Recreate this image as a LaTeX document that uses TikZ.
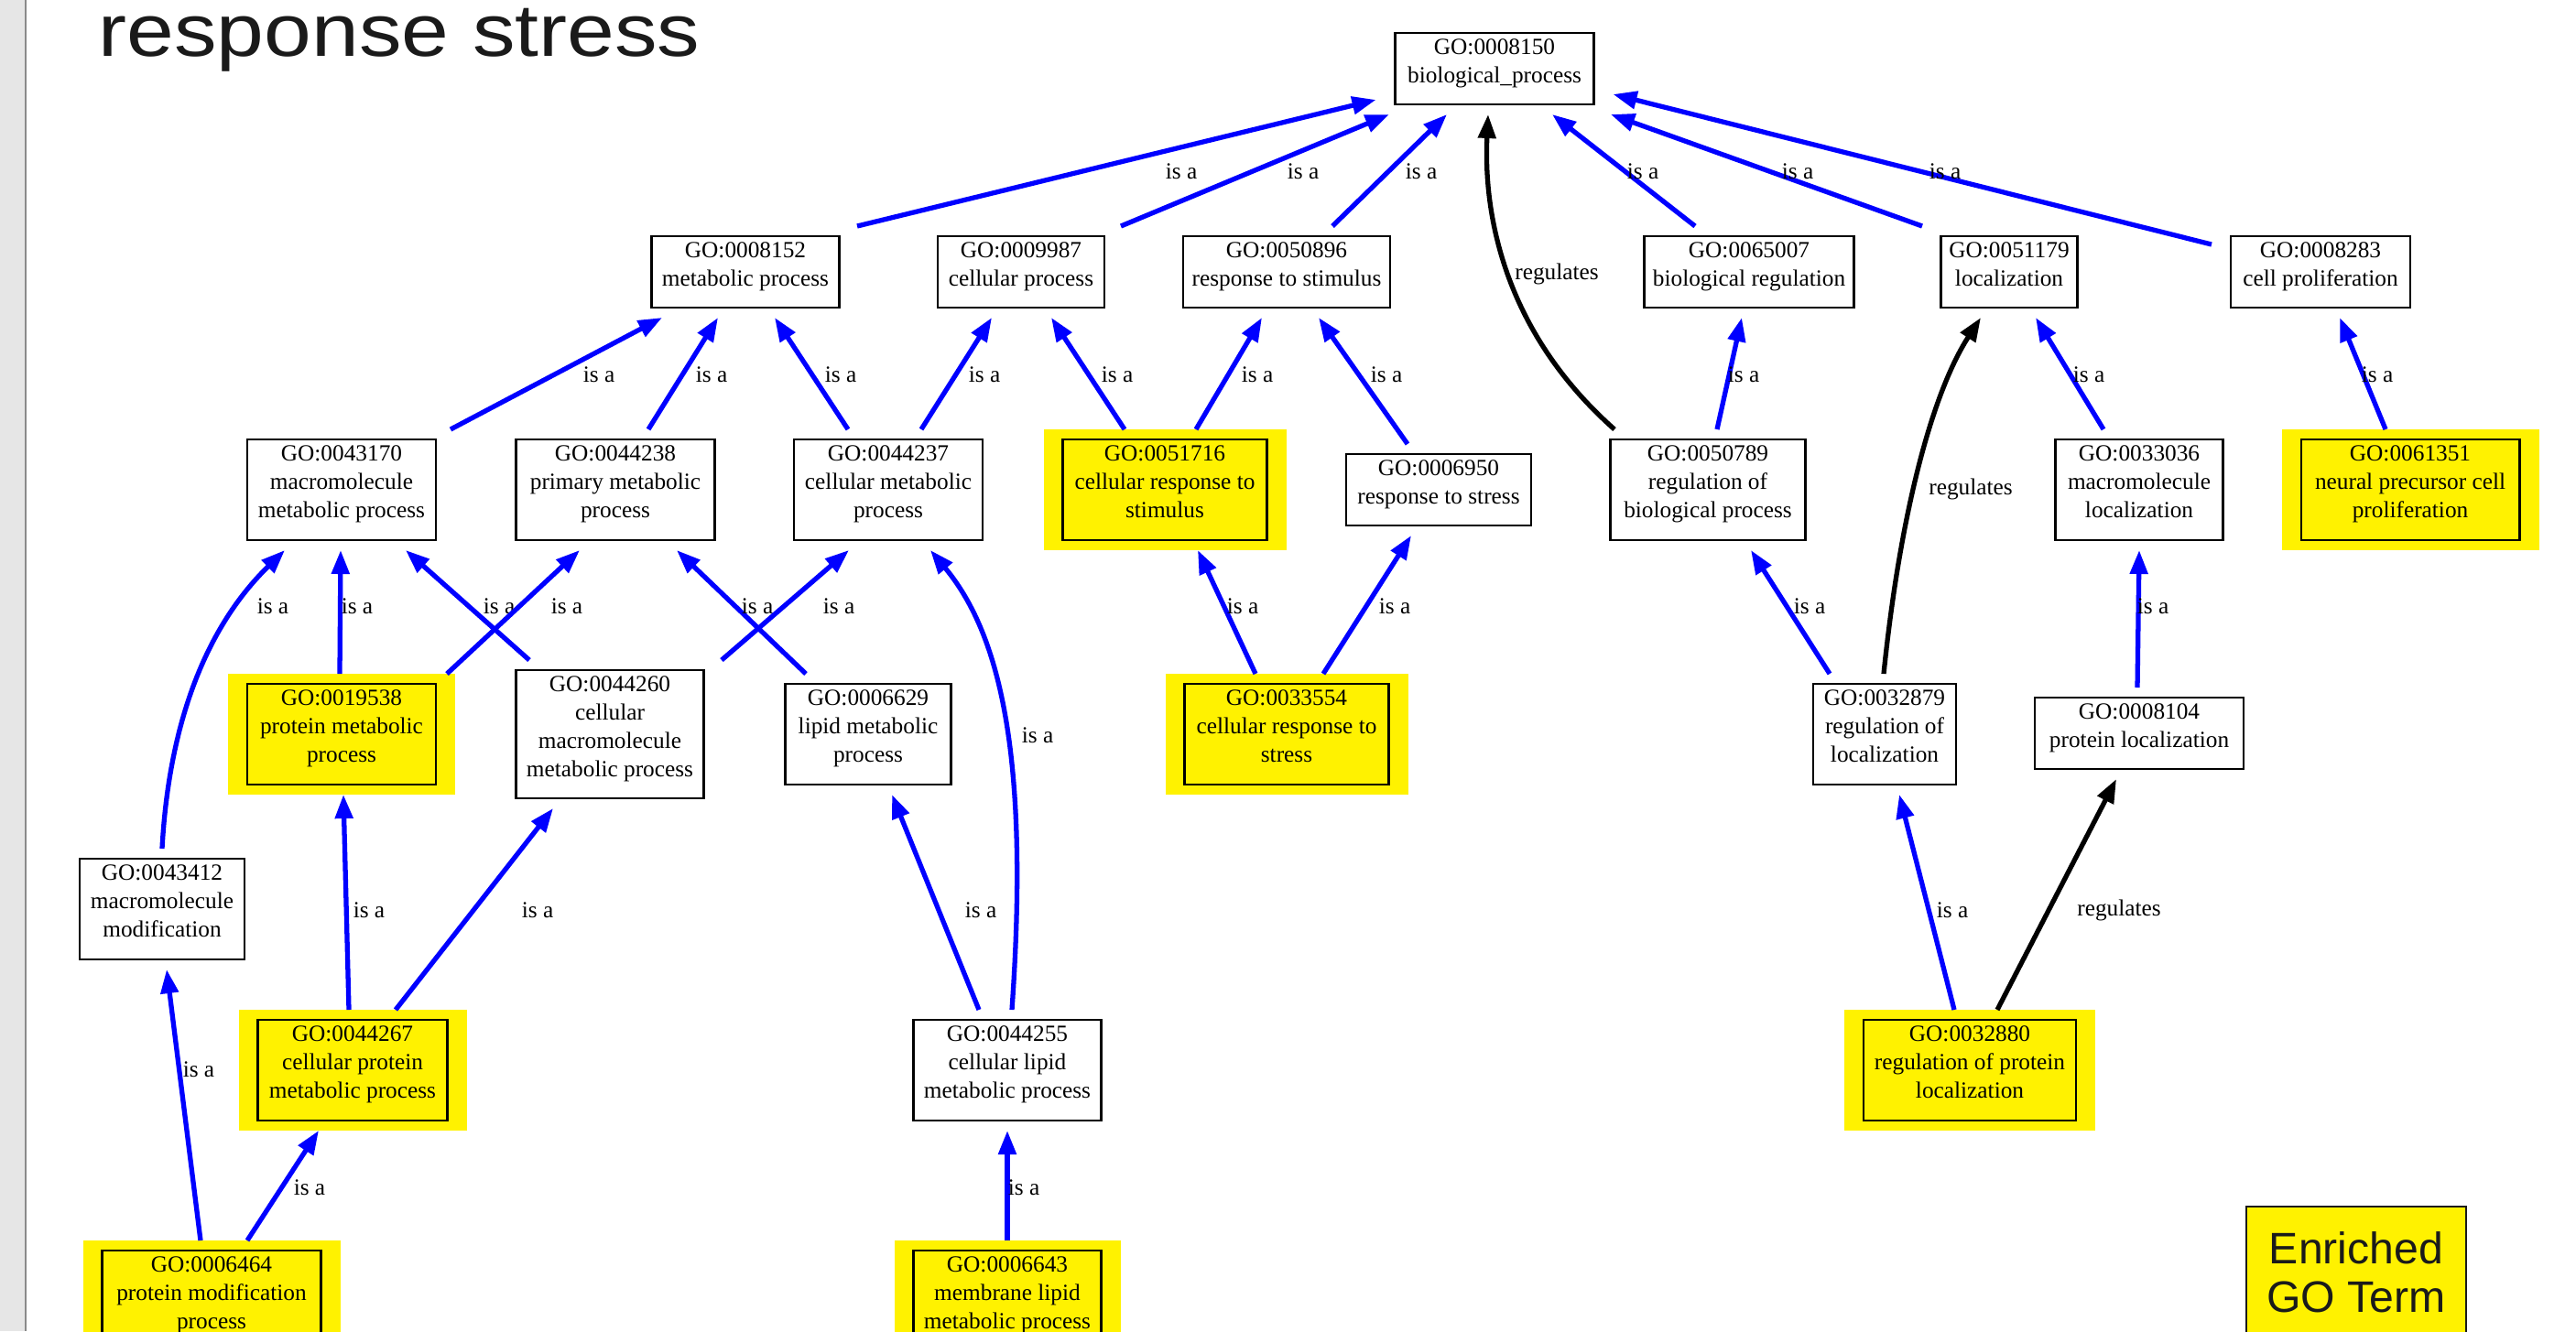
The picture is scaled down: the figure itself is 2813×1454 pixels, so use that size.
\documentclass[tikz,border=0pt]{standalone}
\usepackage{fontspec}
\setmainfont{Liberation Serif}
\newfontfamily\titlefont{Liberation Sans}
\newfontfamily\headfont{Liberation Sans}[FakeStretch=1.15]
\usetikzlibrary{arrows.meta}

\definecolor{sidebar}{HTML}{E6E6E6}
\definecolor{sideline}{HTML}{8A8A8A}
\definecolor{ink}{HTML}{1A1A1A}
\newcommand\gostrut{\rule[-5pt]{0pt}{10pt}}

\begin{document}
\begin{tikzpicture}[
        x=0.01cm, y=-0.01cm,
        term/.style={
            % The shape:
            rectangle,
            inner sep=0pt,
            outer sep=0pt,
            % The filling
            fill=white,
            % The border, drawn inside the node
            path picture={
                \draw[line width=0.6pt]
                    ([shift={(0.21cm,-0.11cm)}]path picture bounding box.north west)
                    rectangle
                    ([shift={(-0.21cm,0.11cm)}]path picture bounding box.south east);
            },
            % Font
            font=\fontsize{7.2}{8.8}\selectfont,
            align=center,
            execute at begin node=\gostrut,
            execute at end node=\gostrut
        },
        enriched/.style={term, fill=yellow},
        isa/.style={draw=blue, line width=1.5pt, -{Triangle[length=0.26cm, width=0.19cm]}},
        regulates/.style={isa, draw=black},
        lbl/.style={inner sep=0pt, font=\fontsize{7.2}{8.8}\selectfont}
    ]

    \useasboundingbox (0,0) rectangle (2813,1454);
    \clip (0,0) rectangle (2813,1454);

    % side bar and title
    \fill[sidebar] (0,0) rectangle (27,1454);
    \draw[sideline, line width=0.7pt] (28,0) -- (28,1454);
    \node[font=\headfont\fontsize{23}{27}\selectfont, text=ink, anchor=base west, inner sep=0pt] (title) at (107,61) {response stress};

    % plain terms
    \foreach \name/\x/\y/\w/\h/\txt in {
        bp/1632/75/217/78/{GO:0008150\\biological\_process},
        mp/814/297/205/78/{GO:0008152\\metabolic process},
        cp/1115/297/182/78/{GO:0009987\\cellular process},
        rs/1405/297/226/78/{GO:0050896\\response to stimulus},
        br/1910/297/229/78/{GO:0065007\\biological regulation},
        loc/2194/297/149/78/{GO:0051179\\localization},
        prol/2534/297/196/78/{GO:0008283\\cell proliferation},
        mmp/373/535/206/110/{GO:0043170\\macromolecule\\metabolic process},
        pmp/672/535/217/110/{GO:0044238\\primary metabolic\\process},
        cmp/970/535/206/110/{GO:0044237\\cellular metabolic\\process},
        rstr/1571/535/202/78/{GO:0006950\\response to stress},
        rbp/1865/535/213/110/{GO:0050789\\regulation of\\biological process},
        mloc/2336/535/183/110/{GO:0033036\\macromolecule\\localization},
        cmmp/666/802/205/140/{GO:0044260\\cellular\\macromolecule\\metabolic process},
        lmp/948/802/181/110/{GO:0006629\\lipid metabolic\\process},
        rloc/2058/802/156/110/{GO:0032879\\regulation of\\localization},
        ploc/2336/801/228/78/{GO:0008104\\protein localization},
        mmod/177/993/180/110/{GO:0043412\\macromolecule\\modification},
        clmp/1100/1169/205/110/{GO:0044255\\cellular lipid\\metabolic process}}
    {
        \node[term, minimum width={(\w+42)*0.01cm}, minimum height={(\h+22)*0.01cm}] (\name) at (\x,\y) {\txt};
    }

    % enriched terms
    \foreach \name/\x/\y/\w/\h/\txt in {
        crs/1272/535/223/110/{GO:0051716\\cellular response to\\stimulus},
        npcp/2632/535/239/110/{GO:0061351\\neural precursor cell\\proliferation},
        prmp/373/802/206/110/{GO:0019538\\protein metabolic\\process},
        crstr/1405/802/223/110/{GO:0033554\\cellular response to\\stress},
        cpmp/385/1169/207/110/{GO:0044267\\cellular protein\\metabolic process},
        rploc/2151/1169/232/110/{GO:0032880\\regulation of protein\\localization},
        pmod/231/1421/239/110/{GO:0006464\\protein modification\\process},
        mlmp/1100/1421/205/110/{GO:0006643\\membrane lipid\\metabolic process}}
    {
        \node[enriched, minimum width={(\w+42)*0.01cm}, minimum height={(\h+22)*0.01cm}] (\name) at (\x,\y) {\txt};
    }

    % is a
    \foreach \s/\sx/\sy/\t/\tx/\ty/\lx/\ly [count=\i] in {
        mp.north/122/0/bp.west/0/34/1290/187,
        cp.north/109/0/bp.south/-115/0/1423/187,
        rs.north/50/0/bp.south/-52/0/1552/187,
        br.north/-59/0/bp.south/63/0/1794/187,
        loc.north/-95/0/bp.south/127/0/1963/187,
        prol.north west/0/20/bp.east/0/28/2124/187,
        mmp.north/119/0/mp.south/-91/0/654/409,
        pmp.north/36/0/mp.south/-30/0/777/409,
        cmp.north/-44/0/mp.south/32/0/918/409,
        cmp.north/36/0/cp.south/-32/0/1075/409,
        crs.north/-44/0/cp.south/33/0/1220/409,
        crs.north/34/0/rs.south/-27/0/1373/409,
        rstr.north/-34/0/rs.south/35/0/1514/409,
        rbp.north/10/0/br.south/-8/0/1904/409,
        mloc.north/-39/0/loc.south/29/0/2281/409,
        npcp.north/-27/0/prol.south/21/0/2596/409,
        prmp.north/-2/0/mmp.south/-1/0/390/662,
        cmmp.north/-88/0/mmp.south/70/0/545/662,
        prmp.north/115/0/pmp.south/-39/0/619/662,
        lmp.north/-68/0/pmp.south/67/0/827/662,
        cmmp.north/122/0/cmp.south/-43/0/916/662,
        crstr.north/-34/0/crs.south/36/0/1357/662,
        crstr.north/40/0/rstr.south/-30/0/1523/662,
        rloc.north/-60/0/rbp.south/47/0/1976/662,
        ploc.north/-2/0/mloc.south/0/0/2351/662,
        cpmp.north/-4/0/prmp.south/2/0/403/994,
        cpmp.north/47/0/cmmp.south/-62/0/587/994,
        clmp.north/-31/0/lmp.south/26/0/1071/994,
        pmod.north/-12/0/mmod.south/5/0/217/1168,
        pmod.north/39/0/cpmp.south/-37/0/338/1297,
        rploc.north/-17/0/rloc.south/16/0/2132/994,
        mlmp.north/0/0/clmp.south/0/0/1118/1297}
    {
        \draw[isa] ([shift={(\sx,\sy)}]\s) -- ([shift={(\tx,\ty)}]\t);
        \node[lbl] (isa\i) at (\lx,\ly) {is a};
    }

    % curved is a
    \draw[isa] (mmod.north) .. controls +(8,-147) and +(-81,79) .. ([shift={(-62,0)}]mmp.south);
    \node[lbl] (isa33) at (298,662) {is a};
    \draw[isa] ([shift={(5,0)}]clmp.north) .. controls +(20,-283) and +(74,89) .. ([shift={(46,0)}]cmp.south);
    \node[lbl] (isa34) at (1133,803) {is a};

    % regulates
    \draw[regulates] ([shift={(-102,0)}]rbp.north) .. controls +(-123,-109) and +(-5,105) .. ([shift={(-7,0)}]bp.south);
    \node[lbl] (reg1) at (1700,299) {regulates};
    \draw[regulates] ([shift={(-1,0)}]rloc.north) .. controls +(18,-176) and +(-53,82) .. ([shift={(-31,0)}]loc.south);
    \node[lbl] (reg2) at (2152,534) {regulates};
    \draw[regulates] ([shift={(30,0)}]rploc.north) -- ([shift={(-25,0)}]ploc.south);
    \node[lbl] (reg3) at (2314,994) {regulates};

    % legend
    \node[fill=yellow, draw=ink, line width=0.4pt, minimum width=2.4cm, minimum height=1.44cm, inner sep=0pt,
          align=center, text=ink, font=\titlefont\fontsize{13.7}{15}\selectfont] (legend) at (2573,1390) {Enriched\\GO Term};

\end{tikzpicture}
\end{document}
